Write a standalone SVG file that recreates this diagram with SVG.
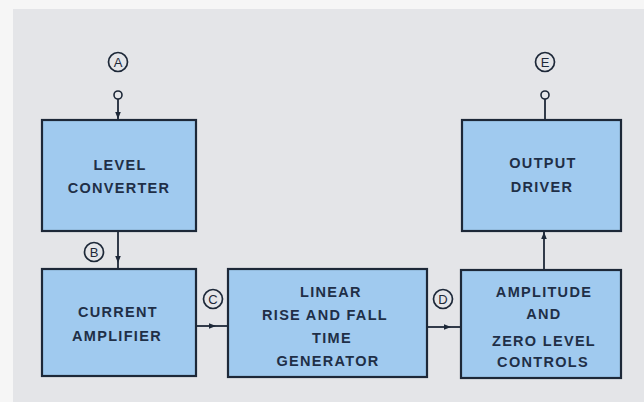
<svg xmlns="http://www.w3.org/2000/svg" width="644" height="402" viewBox="0 0 644 402">
<defs>
<style>
.box{fill:#a0caef;stroke:#1d2838;stroke-width:2.2}
.t{font-family:"Liberation Sans",Arial,sans-serif;font-weight:bold;font-size:14.5px;letter-spacing:1.3px;fill:#1f2f47;text-anchor:middle}
.w{stroke:#1d2838;stroke-width:1.8;fill:none}
.lc{fill:none;stroke:#1d2838;stroke-width:1.7}
.lt{font-family:"Liberation Sans",Arial,sans-serif;font-size:13px;fill:#1d2838;text-anchor:middle}
.term{fill:#e6e7ea;stroke:#1d2838;stroke-width:1.6}
</style>
<marker id="ah" viewBox="0 0 10 10" refX="10" refY="5" markerWidth="9" markerHeight="7" markerUnits="userSpaceOnUse" orient="auto">
<path d="M0,1 L10,5 L0,9 z" fill="#1d2838"/>
</marker>
</defs>
<rect x="0" y="0" width="644" height="402" fill="#f6f6f6"/>
<rect x="13" y="9" width="631" height="393" fill="#e4e5e8"/>

<g id="connectors">
<line class="w" x1="118" y1="99" x2="118" y2="119" marker-end="url(#ah)"/>
<line class="w" x1="118" y1="231" x2="118" y2="263" marker-end="url(#ah)"/>
<line class="w" x1="118" y1="263" x2="118" y2="269"/>
<line class="w" x1="196" y1="326" x2="216" y2="326" marker-end="url(#ah)"/>
<line class="w" x1="216" y1="326" x2="228" y2="326"/>
<line class="w" x1="427" y1="327" x2="451" y2="327" marker-end="url(#ah)"/>
<line class="w" x1="451" y1="327" x2="461" y2="327"/>
<line class="w" x1="544" y1="270" x2="544" y2="232" marker-end="url(#ah)"/>
<line class="w" x1="545" y1="99" x2="545" y2="120"/>
</g>

<g id="labelA">
<circle class="lc" cx="118" cy="62" r="9.5"/>
<text class="lt" x="118" y="66.7">A</text>
<circle class="term" cx="118" cy="95" r="4"/>
</g>
<g id="labelE">
<circle class="lc" cx="545" cy="62" r="9.5"/>
<text class="lt" x="545" y="66.7">E</text>
<circle class="term" cx="545" cy="95" r="4"/>
</g>
<g id="labelB">
<circle class="lc" cx="94" cy="252" r="9.5"/>
<text class="lt" x="94" y="256.7">B</text>
</g>
<g id="labelC">
<circle class="lc" cx="213" cy="299" r="9.5"/>
<text class="lt" x="213" y="303.7">C</text>
</g>
<g id="labelD">
<circle class="lc" cx="443" cy="299" r="9.5"/>
<text class="lt" x="443" y="303.7">D</text>
</g>

<g id="level-converter">
<rect class="box" x="42" y="120" width="154" height="111"/>
<text class="t" x="120" y="170">LEVEL</text>
<text class="t" x="119" y="193">CONVERTER</text>
</g>
<g id="current-amplifier">
<rect class="box" x="42" y="269" width="154" height="107"/>
<text class="t" x="118" y="317">CURRENT</text>
<text class="t" x="117" y="341">AMPLIFIER</text>
</g>
<g id="ramp-generator">
<rect class="box" x="228" y="269" width="199" height="108"/>
<text class="t" x="331" y="297">LINEAR</text>
<text class="t" x="325" y="320">RISE AND FALL</text>
<text class="t" x="332" y="343">TIME</text>
<text class="t" x="328" y="366">GENERATOR</text>
</g>
<g id="amplitude-controls">
<rect class="box" x="461" y="270" width="160" height="108"/>
<text class="t" x="544" y="297">AMPLITUDE</text>
<text class="t" x="544" y="319">AND</text>
<text class="t" x="544" y="346">ZERO LEVEL</text>
<text class="t" x="543" y="367">CONTROLS</text>
</g>
<g id="output-driver">
<rect class="box" x="462" y="120" width="159" height="111"/>
<text class="t" x="543" y="168">OUTPUT</text>
<text class="t" x="542" y="192">DRIVER</text>
</g>
</svg>
